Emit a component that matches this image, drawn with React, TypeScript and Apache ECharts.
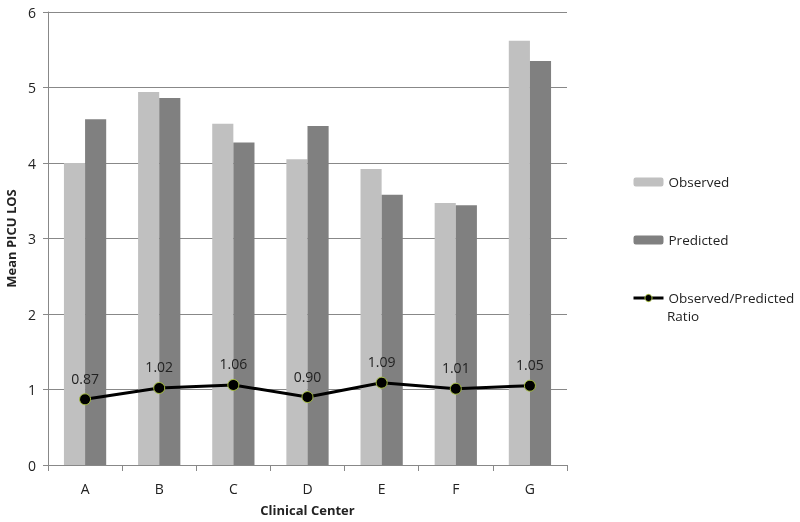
import React, { useEffect, useRef } from "react";
import * as echarts from "echarts";

const categories = ["A", "B", "C", "D", "E", "F", "G"];
const observed = [4.0, 4.94, 4.52, 4.05, 3.92, 3.47, 5.62];
const predicted = [4.58, 4.86, 4.27, 4.49, 3.58, 3.44, 5.35];
const ratio = [0.87, 1.02, 1.06, 0.9, 1.09, 1.01, 1.05];

const FONT = "Open Sans";

export default function App() {
  const ref = useRef<HTMLDivElement>(null);
  useEffect(() => {
    if (!ref.current) return;
    const chart = echarts.init(ref.current, undefined, { renderer: "svg" });
    chart.setOption({
      animation: false,
      textStyle: { fontFamily: FONT },
      grid: { left: 48, right: 233, top: 12, bottom: 57, outerBoundsMode: "none" },
      legend: {
        orient: "vertical",
        left: 627,
        top: 168,
        itemGap: 40,
        itemWidth: 30,
        itemHeight: 9,
        textStyle: { fontFamily: FONT, fontSize: 13.5, color: "#222", lineHeight: 18 },
        formatter: (n: string) => (n === "Observed/Predicted Ratio" ? "Observed/Predicted" : n),
        data: [
          "Observed",
          "Predicted",
          {
            name: "Observed/Predicted Ratio",
            lineStyle: { width: 3, color: "#000" },
            itemStyle: { color: "#000", borderColor: "#a8c040", borderWidth: 1 },
          },
        ],
      },
      graphic: [
        {
          type: "text",
          left: 667,
          top: 309,
          style: { text: "Ratio", fontFamily: FONT, fontSize: 13.5, fill: "#222" },
        },
      ],
      xAxis: {
        type: "category",
        data: categories,
        name: "Clinical Center",
        nameLocation: "middle",
        nameGap: 38,
        nameTextStyle: { fontFamily: FONT, fontSize: 13, fontWeight: "bold", color: "#222" },
        axisLine: { lineStyle: { color: "#888", width: 1 } },
        axisTick: { show: true, length: 6, lineStyle: { color: "#888" } },
        axisLabel: { fontFamily: FONT, fontSize: 14, color: "#222", margin: 16 },
      },
      yAxis: {
        type: "value",
        min: 0,
        max: 6,
        interval: 1,
        name: "Mean PICU LOS",
        nameLocation: "middle",
        nameGap: 28,
        nameTextStyle: { fontFamily: FONT, fontSize: 13, fontWeight: "bold", color: "#222" },
        axisLine: { show: true, lineStyle: { color: "#888", width: 1 } },
        axisTick: { show: true, length: 5, lineStyle: { color: "#888" } },
        axisLabel: { fontFamily: FONT, fontSize: 14, color: "#222", margin: 12 },
        splitLine: { show: true, lineStyle: { color: "#888", width: 1 } },
      },
      series: [
        {
          name: "Observed",
          type: "bar",
          data: observed,
          barGap: "0%",
          barCategoryGap: "43%",
          itemStyle: { color: "#c0c0c0" },
        },
        {
          name: "Predicted",
          type: "bar",
          data: predicted,
          itemStyle: { color: "#808080" },
        },
        {
          name: "Observed/Predicted Ratio",
          type: "line",
          data: ratio,
          symbol: "circle",
          symbolSize: 11,
          lineStyle: { color: "#000", width: 3 },
          itemStyle: { color: "#000", borderColor: "#a8c040", borderWidth: 1 },
          label: {
            show: true,
            position: "top",
            distance: 8,
            fontFamily: FONT,
            fontSize: 14,
            color: "#222",
            formatter: (p: any) => p.value.toFixed(2),
          },
          z: 5,
        },
      ],
    });
    return () => chart.dispose();
  }, []);
  return (
    <div
      ref={ref}
      style={{ position: "fixed", left: 0, top: 0, width: 800, height: 522 }}
    />
  );
}
